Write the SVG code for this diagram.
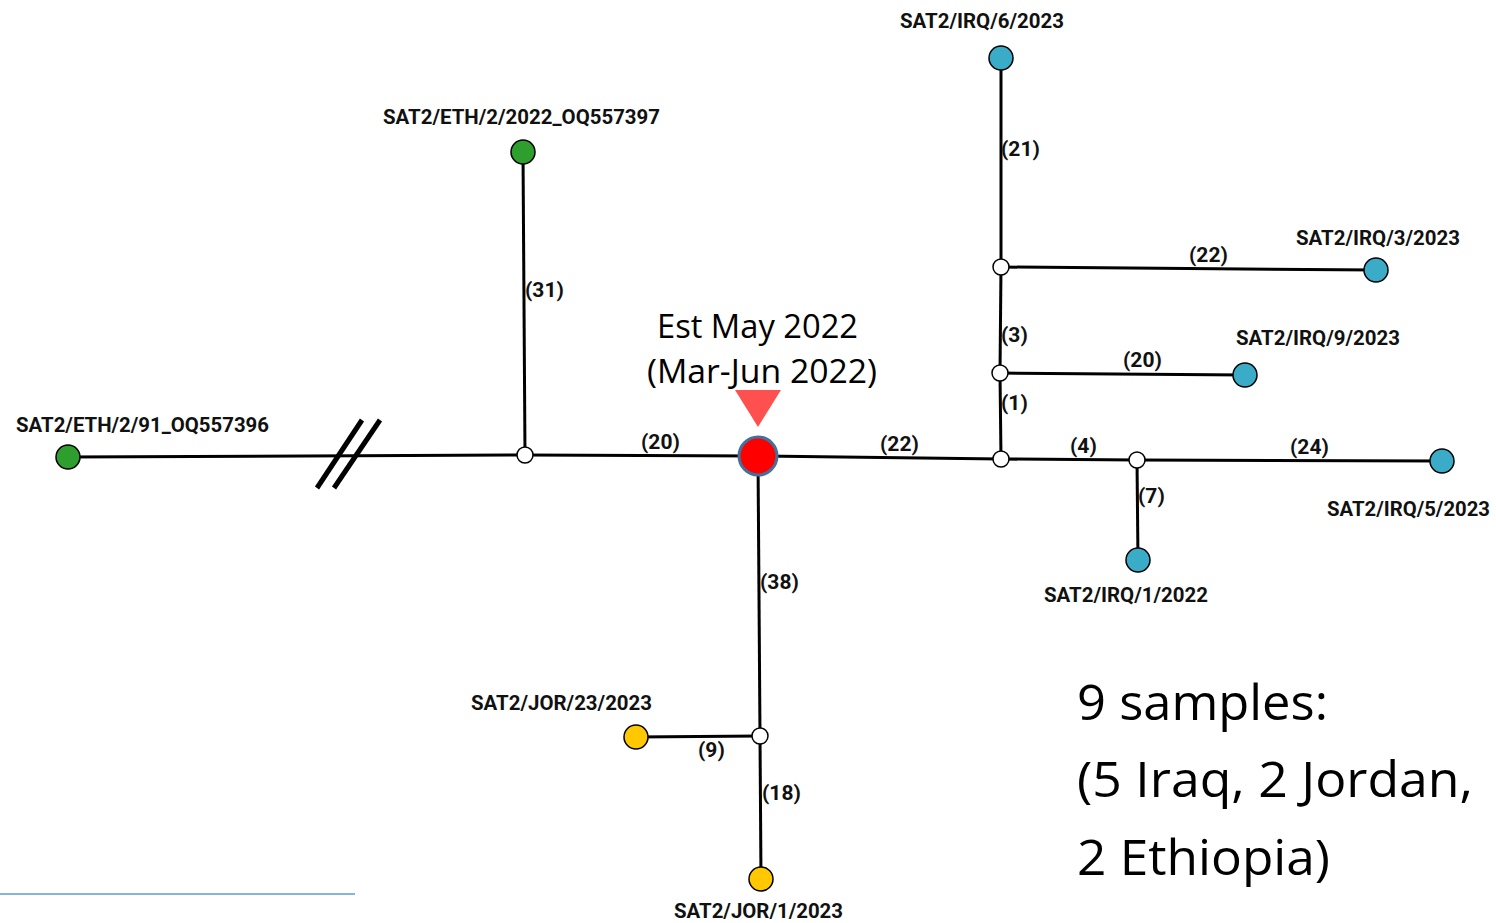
<svg xmlns="http://www.w3.org/2000/svg" width="1496" height="923" viewBox="0 0 1496 923">
<style>
.e{stroke:#000;stroke-width:3;fill:none}
.j{fill:#fff;stroke:#000;stroke-width:1.5}
.g{fill:#2E9E2E;stroke:#000;stroke-width:1.5}
.b{fill:#3AACC8;stroke:#000;stroke-width:1.5}
.y{fill:#FFC800;stroke:#000;stroke-width:1.5}
.lb{font-family:Roboto,"Liberation Sans",sans-serif;font-weight:bold;font-size:21px;fill:#111}
.el{font-family:Roboto,"Liberation Sans",sans-serif;font-weight:bold;font-size:21px;fill:#111}
.big{font-family:"Open Sans","Noto Sans",sans-serif;fill:#000}
</style>
<rect width="1496" height="923" fill="#fff"/>
<g id="connectors">
<line class="e" x1="68" y1="457" x2="525" y2="455"/>
<line x1="362" y1="420" x2="317" y2="488" stroke="#000" stroke-width="5"/>
<line x1="380" y1="420" x2="334" y2="488" stroke="#000" stroke-width="5"/>
<line class="e" x1="523" y1="152" x2="525" y2="455"/>
<line class="e" x1="525" y1="455" x2="758" y2="456"/>
<line class="e" x1="758" y1="456" x2="1001" y2="459"/>
<line class="e" x1="758" y1="456" x2="760" y2="736"/>
<line class="e" x1="760" y1="736" x2="636" y2="737"/>
<line class="e" x1="760" y1="736" x2="761" y2="879"/>
<line class="e" x1="1001" y1="459" x2="1000" y2="373"/>
<line class="e" x1="1000" y1="373" x2="1001" y2="267"/>
<line class="e" x1="1001" y1="267" x2="1001" y2="58"/>
<line class="e" x1="1001" y1="267" x2="1376" y2="270"/>
<line class="e" x1="1000" y1="373" x2="1245" y2="375"/>
<line class="e" x1="1001" y1="459" x2="1137" y2="460"/>
<line class="e" x1="1137" y1="460" x2="1442" y2="461"/>
<line class="e" x1="1137" y1="460" x2="1138" y2="560"/>
<text class="el" x="525" y="297">(31)</text>
<text class="el" x="641" y="449">(20)</text>
<text class="el" x="880" y="451">(22)</text>
<text class="el" x="1001" y="156">(21)</text>
<text class="el" x="1189" y="262">(22)</text>
<text class="el" x="1001" y="342">(3)</text>
<text class="el" x="1123" y="367">(20)</text>
<text class="el" x="1001" y="410">(1)</text>
<text class="el" x="1070" y="453">(4)</text>
<text class="el" x="1290" y="454">(24)</text>
<text class="el" x="1138" y="503">(7)</text>
<text class="el" x="760" y="589">(38)</text>
<text class="el" x="698" y="757">(9)</text>
<text class="el" x="762" y="800">(18)</text>
</g>
<g id="n_eth91"><circle class="g" cx="68" cy="457" r="12"/><text class="lb" x="16" y="432" textLength="253" lengthAdjust="spacingAndGlyphs">SAT2/ETH/2/91_OQ557396</text></g>
<g id="n_eth2022"><circle class="g" cx="523" cy="152" r="12"/><text class="lb" x="383" y="124" textLength="277" lengthAdjust="spacingAndGlyphs">SAT2/ETH/2/2022_OQ557397</text></g>
<g id="j_a"><circle class="j" cx="525" cy="455" r="8"/></g>
<g id="n_root"><circle cx="758" cy="456" r="19" fill="#FF0000" stroke="#41719C" stroke-width="3"/><polygon points="735,390 781,390 758,427" fill="#FF5050"/>
<text class="big" x="657" y="338" font-size="32" textLength="201" lengthAdjust="spacingAndGlyphs">Est May 2022</text>
<text class="big" x="647" y="383" font-size="32" textLength="230" lengthAdjust="spacingAndGlyphs">(Mar-Jun 2022)</text></g>
<g id="j_b"><circle class="j" cx="1001" cy="459" r="8"/></g>
<g id="j_c"><circle class="j" cx="1000" cy="373" r="8"/></g>
<g id="j_d"><circle class="j" cx="1001" cy="267" r="8"/></g>
<g id="j_e"><circle class="j" cx="1137" cy="460" r="8"/></g>
<g id="j_f"><circle class="j" cx="760" cy="736" r="8"/></g>
<g id="n_irq6"><circle class="b" cx="1001" cy="58" r="12"/><text class="lb" x="900" y="28" textLength="164" lengthAdjust="spacingAndGlyphs">SAT2/IRQ/6/2023</text></g>
<g id="n_irq3"><circle class="b" cx="1376" cy="270" r="12"/><text class="lb" x="1296" y="245" textLength="164" lengthAdjust="spacingAndGlyphs">SAT2/IRQ/3/2023</text></g>
<g id="n_irq9"><circle class="b" cx="1245" cy="375" r="12"/><text class="lb" x="1236" y="345" textLength="164" lengthAdjust="spacingAndGlyphs">SAT2/IRQ/9/2023</text></g>
<g id="n_irq5"><circle class="b" cx="1442" cy="461" r="12"/><text class="lb" x="1327" y="516" textLength="163" lengthAdjust="spacingAndGlyphs">SAT2/IRQ/5/2023</text></g>
<g id="n_irq1"><circle class="b" cx="1138" cy="560" r="12"/><text class="lb" x="1044" y="602" textLength="164" lengthAdjust="spacingAndGlyphs">SAT2/IRQ/1/2022</text></g>
<g id="n_jor23"><circle class="y" cx="636" cy="737" r="12"/><text class="lb" x="471" y="710" textLength="181" lengthAdjust="spacingAndGlyphs">SAT2/JOR/23/2023</text></g>
<g id="n_jor1"><circle class="y" cx="761" cy="879" r="12"/><text class="lb" x="674" y="918" textLength="169" lengthAdjust="spacingAndGlyphs">SAT2/JOR/1/2023</text></g>
<g id="summary">
<text class="big" x="1077" y="720" font-size="50" textLength="251" lengthAdjust="spacingAndGlyphs">9 samples:</text>
<text class="big" x="1077" y="797" font-size="50" textLength="396" lengthAdjust="spacingAndGlyphs">(5 Iraq, 2 Jordan,</text>
<text class="big" x="1077" y="875" font-size="50" textLength="253" lengthAdjust="spacingAndGlyphs">2 Ethiopia)</text>
</g>
<line x1="0" y1="894" x2="355" y2="894" stroke="#5B9BD5" stroke-width="1.5"/>
</svg>
